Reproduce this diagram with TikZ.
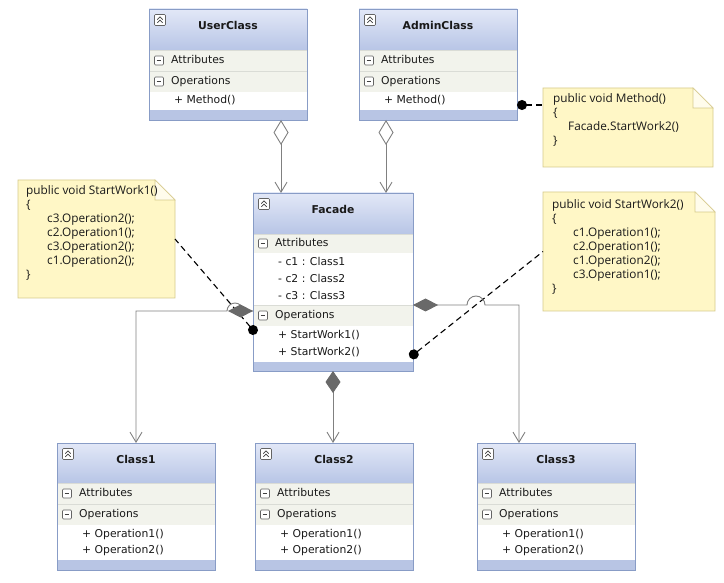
\documentclass[tikz,border=0pt]{standalone}
\usepackage{fontspec}
\setmainfont{DejaVu Sans}
\newfontfamily\notefont{Open Sans}
\usetikzlibrary{arrows.meta,calc}

\definecolor{boxborder}{RGB}{136,156,198}
\definecolor{titletop}{RGB}{226,232,247}
\definecolor{titlebot}{RGB}{184,197,230}
\definecolor{secfill}{RGB}{242,243,236}
\definecolor{bandcol}{RGB}{184,197,228}
\definecolor{sepgray}{RGB}{218,220,214}
\definecolor{icongray}{RGB}{100,100,100}
\definecolor{textcol}{RGB}{25,25,25}
\definecolor{linkgray}{RGB}{128,128,128}
\definecolor{diamgray}{RGB}{105,105,105}
\definecolor{notefill}{RGB}{255,247,198}
\definecolor{noteedge}{RGB}{214,202,140}
\definecolor{foldfill}{RGB}{255,252,236}

% class box: frame node, title band, section headers, members, bottom band
\newcommand\classframe[5]{% name, left, top, width, height
  \node[framenode, minimum width=#4pt, minimum height=#5pt] (#1) at (#2,#3) {};}
\newcommand\titleband[3]{% node, band height, title
  \shade[top color=titletop, bottom color=titlebot] (#1.north west) rectangle ($(#1.north east)+(0,#2)$);
  \node[titletext] at ($(#1.north)+(0,16)$) {#3};
  \pic at ($(#1.north west)+(11,11)$) {collapseicon};}
\newcommand\sechead[4]{% node, top offset, height, label
  \fill[secfill] ($(#1.north west)+(0,#2)$) rectangle ($(#1.north east)+(0,#2+#3)$);
  \draw[sepline] ($(#1.north west)+(0,#2)$) -- ($(#1.north east)+(0,#2)$);
  \pic at ($(#1.north west)+(10,#2+#3/2)$) {minusicon};
  \node[sectext] at ($(#1.north west)+(22,#2+#3/2)$) {#4};}
\newcommand\member[3]{% node, centre offset, text
  \node[sectext] at ($(#1.north west)+(25,#2)$) {#3};}
\newcommand\closebox[2]{% node, band height
  \fill[bandcol] ($(#1.south west)+(0,-#2)$) rectangle (#1.south east);
  \draw[boxedge] (#1.north west) rectangle (#1.south east);}

% comment note with folded corner
\newcommand\notebox[5]{% name, left, top, width, height
  \node[framenode, fill=none, minimum width=#4pt, minimum height=#5pt] (#1) at (#2,#3) {};
  \filldraw[notestyle] (#1.north west) -- ($(#1.north east)+(-20,0)$) -- ($(#1.north east)+(0,20)$)
     -- (#1.south east) -- (#1.south west) -- cycle;
  \filldraw[notefold] ($(#1.north east)+(-20,0)$) -- ($(#1.north east)+(-20,20)$) -- ($(#1.north east)+(0,20)$) -- cycle;}

\begin{document}
\begin{tikzpicture}[x=1pt, y=-1pt,
  framenode/.style={draw=none, fill=white, inner sep=0pt, outer sep=0pt, anchor=north west},
  boxedge/.style={draw=boxborder, line width=0.8pt},
  sepline/.style={draw=sepgray, line width=0.6pt},
  titletext/.style={font=\fontsize{10.8}{12}\selectfont\bfseries, text=textcol, inner sep=0pt},
  sectext/.style={font=\fontsize{10.8}{12}\selectfont, text=textcol, anchor=west, inner sep=0pt,
    text height=7.8pt, text depth=2.2pt},
  iconframe/.style={draw=icongray, line width=0.6pt, fill=white, rounded corners=1pt},
  iconmark/.style={draw=black!75, line width=0.8pt},
  pics/collapseicon/.style={code={
    \draw[iconframe] (-5.5,-5.5) rectangle (5.5,5.5);
    \draw[iconmark] (-2.7,-0.4) -- (0,-3.1) -- (2.7,-0.4);
    \draw[iconmark] (-2.7,2.8) -- (0,0.1) -- (2.7,2.8);}},
  pics/minusicon/.style={code={
    \draw[iconframe] (-4.5,-4.5) rectangle (4.5,4.5);
    \draw[iconmark] (-2.3,0) -- (2.3,0);}},
  link/.style={draw=linkgray, line width=0.9pt},
  aggr/.style={link, arrows={Diamond[open, length=25pt, width=15pt]-Straight Barb[length=10pt, width=12pt]}},
  compdown/.style={link, arrows={Diamond[length=22pt, width=15pt, color=diamgray, fill=diamgray]-Straight Barb[length=10pt, width=12pt]}},
  compside/.style={link, arrows={Diamond[length=25pt, width=13pt, color=diamgray, fill=diamgray]-Straight Barb[length=10pt, width=12pt]}},
  assoc/.style={link, arrows={-Straight Barb[length=10pt, width=12pt]}},
  notelink/.style={draw=black, line width=1.1pt, dash pattern=on 6pt off 4pt, arrows={Circle[length=10pt]-}},
  notestyle/.style={fill=notefill, draw=noteedge, line width=0.8pt},
  notefold/.style={fill=foldfill, draw=noteedge, line width=0.6pt},
  notetext/.style={anchor=north west, align=left, inner sep=0pt,
    font=\notefont\fontsize{11.8}{14}\selectfont, text=textcol}
]
\fill[white] (0,0) rectangle (724,583);
\useasboundingbox (0,0) rectangle (724,583);

% ---------- classes ----------
\classframe{user}{149}{9}{158}{111}
\titleband{user}{41}{UserClass}
\sechead{user}{41}{21}{Attributes}
\sechead{user}{62}{21}{Operations}
\member{user}{92}{+ Method()}
\closebox{user}{10}

\classframe{admin}{359}{9}{158}{111}
\titleband{admin}{41}{AdminClass}
\sechead{admin}{41}{21}{Attributes}
\sechead{admin}{62}{21}{Operations}
\member{admin}{92}{+ Method()}
\closebox{admin}{10}

\classframe{facade}{253}{193}{160}{178}
\titleband{facade}{41}{Facade}
\sechead{facade}{41}{19}{Attributes}
\member{facade}{70}{- c1 : Class1}
\member{facade}{87}{- c2 : Class2}
\member{facade}{104}{- c3 : Class3}
\sechead{facade}{112}{21}{Operations}
\member{facade}{143}{+ StartWork1()}
\member{facade}{160}{+ StartWork2()}
\closebox{facade}{9}

\classframe{classone}{57}{443}{158}{127}
\titleband{classone}{40}{Class1}
\sechead{classone}{40}{21}{Attributes}
\sechead{classone}{61}{21}{Operations}
\member{classone}{92}{+ Operation1()}
\member{classone}{108}{+ Operation2()}
\closebox{classone}{10}

\classframe{classtwo}{255}{443}{158}{127}
\titleband{classtwo}{40}{Class2}
\sechead{classtwo}{40}{21}{Attributes}
\sechead{classtwo}{61}{21}{Operations}
\member{classtwo}{92}{+ Operation1()}
\member{classtwo}{108}{+ Operation2()}
\closebox{classtwo}{10}

\classframe{classthree}{477}{443}{158}{127}
\titleband{classthree}{40}{Class3}
\sechead{classthree}{40}{21}{Attributes}
\sechead{classthree}{61}{21}{Operations}
\member{classthree}{92}{+ Operation1()}
\member{classthree}{108}{+ Operation2()}
\closebox{classthree}{10}

% ---------- notes ----------
\notebox{noteone}{18}{180}{157}{118}
\node[notetext] at ($(noteone.north west)+(8,5)$)
  {public void StartWork1()\\ \{\\
   \hspace*{21pt}c3.Operation2();\\ \hspace*{21pt}c2.Operation1();\\
   \hspace*{21pt}c3.Operation2();\\ \hspace*{21pt}c1.Operation2();\\ \}};

\notebox{notetwo}{543}{88}{170}{79}
\node[notetext] at ($(notetwo.north west)+(10,5)$)
  {public void Method()\\ \{\\ \hspace*{15pt}Facade.StartWork2()\\ \}};

\notebox{notethree}{543}{192}{172}{119}
\node[notetext] at ($(notethree.north west)+(9,7)$)
  {public void StartWork2()\\ \{\\
   \hspace*{21pt}c1.Operation1();\\ \hspace*{21pt}c2.Operation1();\\
   \hspace*{21pt}c1.Operation2();\\ \hspace*{21pt}c3.Operation1();\\ \}};

% ---------- routing levels ----------
\coordinate (xa) at (281,0);
\coordinate (xb) at (386,0);
\coordinate (xc) at (333,0);
\coordinate (xd) at (519,0);
\coordinate (ya) at (0,311);
\coordinate (yb) at (0,305);
\coordinate (yc) at (0,105);
\coordinate (yd) at (0,330);
\coordinate (ye) at (0,355);

% ---------- note anchors ----------
\draw[notelink] (admin.east |- yc) -- (notetwo.west |- yc);
\draw[notelink, shorten <=-5pt] (facade.west |- yd) -- (noteone.east);
\draw[notelink, shorten <=-4pt] (facade.east |- ye) -- (notethree.west);

% ---------- associations ----------
\draw[aggr] (user.south -| xa) -- (facade.north -| xa);
\draw[aggr] (admin.south -| xb) -- (facade.north -| xb);
\draw[compdown] (facade.south -| xc) -- (classtwo.north -| xc);

\draw[assoc] (facade.west |- ya) -- ++(-10,0) arc[start angle=0, end angle=-180, radius=8]
  -- (classone.north |- ya) -- (classone.north);
\fill[diamgray] (facade.west |- ya) -- ++(-12.5,-6.5) -- ++(-12.5,6.5) -- ++(12.5,6.5) -- cycle;

\draw[compside] (facade.east |- yb) -- ++(54,0) arc[start angle=180, end angle=360, radius=9]
  -- (xd |- yb) -- (classthree.north -| xd);
\end{tikzpicture}
\end{document}
